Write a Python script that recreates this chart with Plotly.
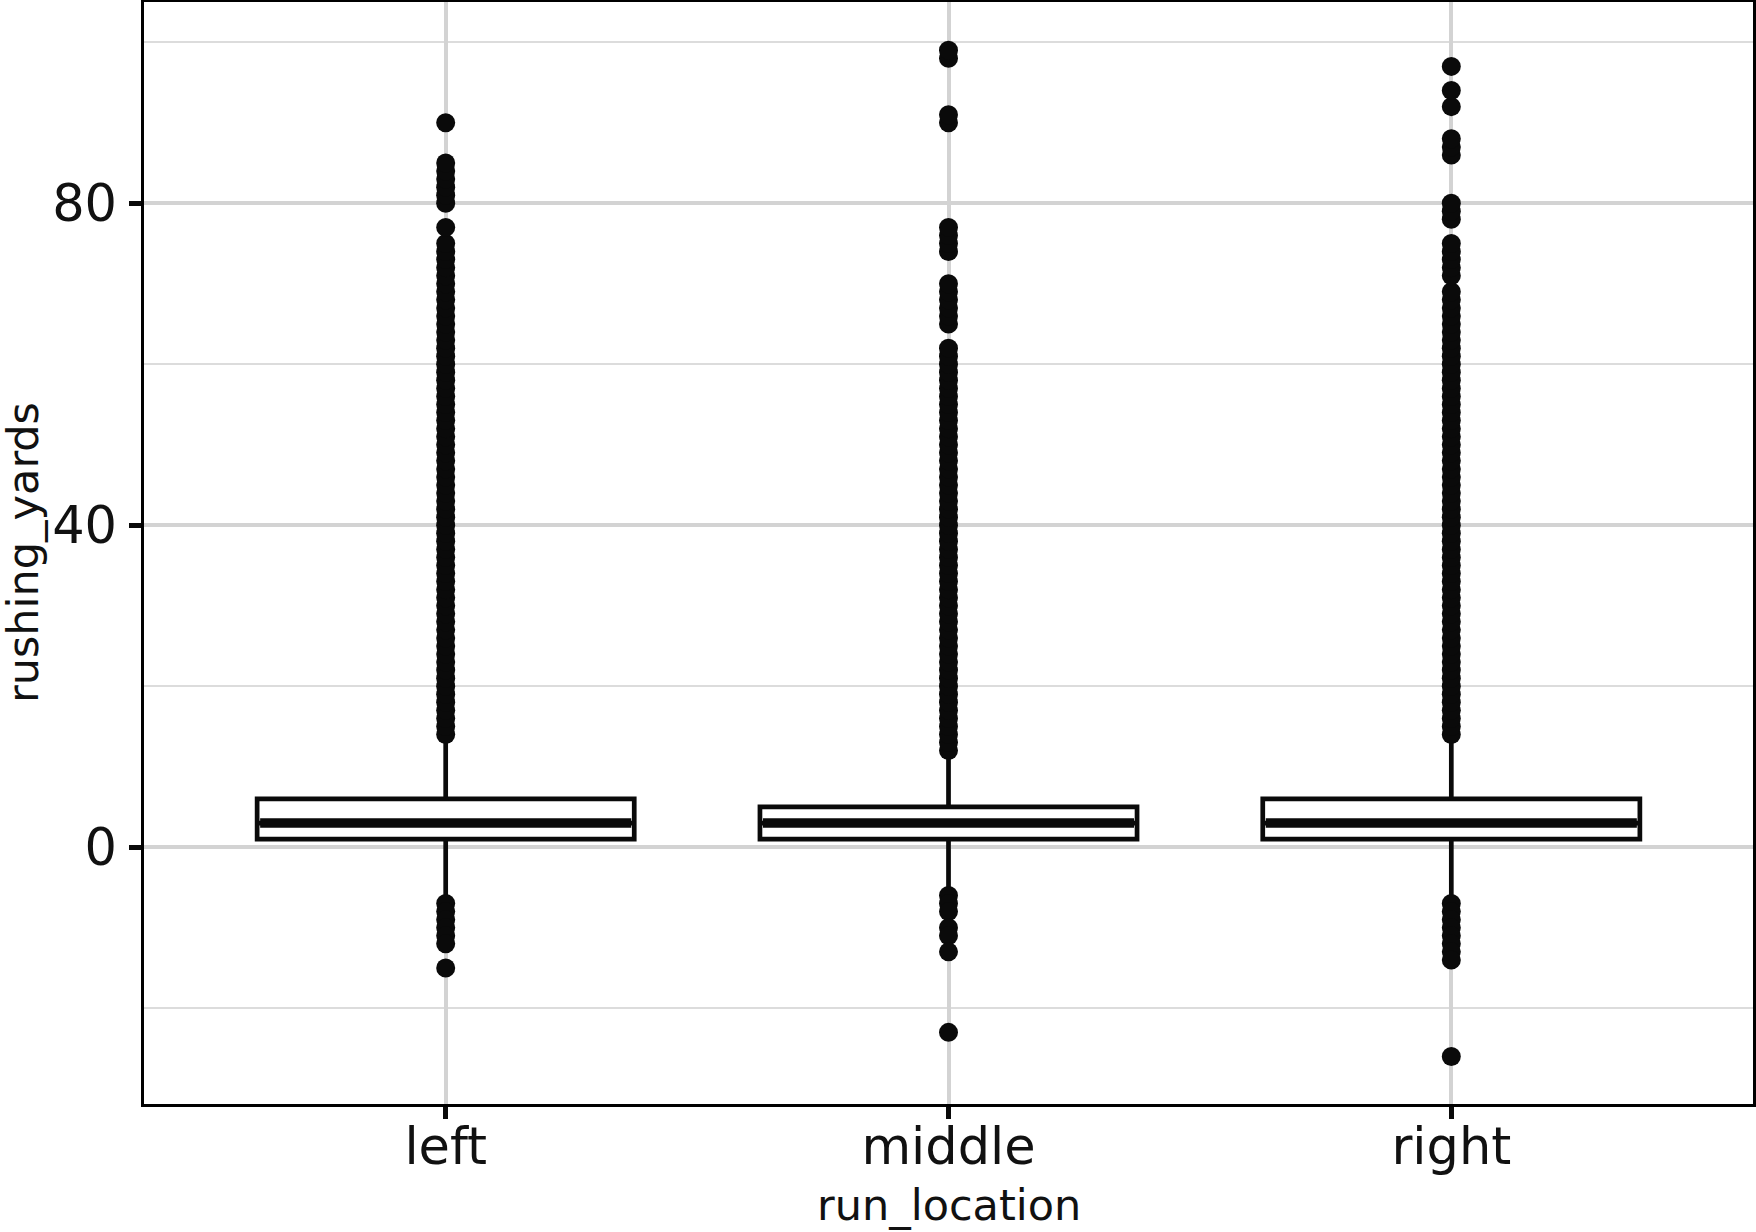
import plotly.graph_objects as go

# ---- data ----
categories = ["left", "middle", "right"]
q1 = [1, 1, 1]
median = [3, 3, 3]
q3 = [6, 5, 6]
lower_fence = [-6, -5, -6]
upper_fence = [13, 11, 13]

left_outliers = [14, 15, 16, 17, 18, 19, 20, 21, 22, 23, 24, 25, 26, 27, 28, 29, 30,
                 31, 32, 33, 34, 35, 36, 37, 38, 39, 40, 41, 42, 43, 44, 45, 46, 47,
                 48, 49, 50, 51, 52, 53, 54, 55, 56, 57, 58, 59, 60, 61, 62, 63, 64,
                 65, 66, 67, 68, 69, 70, 71, 72, 73, 74, 75, 77, 80, 81, 82, 83, 84,
                 85, 90, -7, -8, -9, -10, -11, -12, -15]
middle_outliers = [12, 13, 14, 15, 16, 17, 18, 19, 20, 21, 22, 23, 24, 25, 26, 27, 28,
                   29, 30, 31, 32, 33, 34, 35, 36, 37, 38, 39, 40, 41, 42, 43, 44, 45,
                   46, 47, 48, 49, 50, 51, 52, 53, 54, 55, 56, 57, 58, 59, 60, 61, 62,
                   65, 66, 67, 68, 69, 70, 74, 75, 76, 77, 90, 91, 98, 99,
                   -6, -7, -8, -10, -11, -13, -23]
right_outliers = [14, 15, 16, 17, 18, 19, 20, 21, 22, 23, 24, 25, 26, 27, 28, 29, 30,
                  31, 32, 33, 34, 35, 36, 37, 38, 39, 40, 41, 42, 43, 44, 45, 46, 47,
                  48, 49, 50, 51, 52, 53, 54, 55, 56, 57, 58, 59, 60, 61, 62, 63, 64,
                  65, 66, 67, 68, 69, 71, 72, 73, 74, 75, 78, 79, 80, 86, 87, 88, 92,
                  94, 97, -7, -8, -9, -10, -11, -12, -13, -14, -26]
outliers = [left_outliers, middle_outliers, right_outliers]

y_ticks = [0, 40, 80]
x_title = "run_location"
y_title = "rushing_yards"

# ---- styling ----
BOX_W = 0.75
INK = "#0a0a0a"
TXT = "#111111"
positions = list(range(len(categories)))

fig = go.Figure()

# outliers
for i, vals in enumerate(outliers):
    fig.add_trace(go.Scatter(
        x=[positions[i]] * len(vals), y=vals, mode="markers",
        marker=dict(size=19, color=INK, line=dict(width=0)),
        showlegend=False, hoverinfo="y"))

# boxes
fig.add_trace(go.Box(
    x=positions, q1=q1, median=median, q3=q3,
    lowerfence=lower_fence, upperfence=upper_fence,
    width=BOX_W, whiskerwidth=0, boxpoints=False,
    fillcolor="white", line=dict(color=INK, width=4.7),
    showlegend=False))

# thick median lines (ggplot fatten)
for i, m in enumerate(median):
    fig.add_trace(go.Scatter(
        x=[positions[i] - BOX_W / 2 + 0.006, positions[i] + BOX_W / 2 - 0.006],
        y=[m, m], mode="lines",
        line=dict(color=INK, width=9.5), showlegend=False, hoverinfo="skip"))

font_family = "DejaVu Sans"
fig.update_layout(
    width=1756, height=1232,
    margin=dict(l=144, r=3, t=2, b=128, autoexpand=False),
    paper_bgcolor="white", plot_bgcolor="white",
    font=dict(family=font_family, color=TXT),
    annotations=[
        dict(text=x_title, xref="paper", yref="paper", x=0.5, y=0,
             xanchor="center", yanchor="middle", yshift=-101, showarrow=False,
             font=dict(size=43, color=TXT)),
        dict(text=y_title, xref="paper", yref="paper", x=0, y=0.5,
             xanchor="center", yanchor="middle", xshift=-121, textangle=-90,
             showarrow=False, font=dict(size=43, color=TXT)),
    ],
)
fig.update_xaxes(
    range=[-0.6, 2.6], tickmode="array", tickvals=positions, ticktext=categories,
    tickfont=dict(size=51, color=TXT), automargin=False,
    showgrid=True, gridcolor="#d3d3d3", gridwidth=4,
    zeroline=False,
    showline=True, mirror=True, linecolor="black", linewidth=2.5,
    ticks="outside", ticklen=12, tickwidth=4.5, tickcolor=INK,
    ticklabelstandoff=-16,
)
fig.update_yaxes(
    range=[-31.9, 105], tickmode="array", tickvals=y_ticks,
    tickfont=dict(size=51, color=TXT), automargin=False,
    showgrid=True, gridcolor="#d3d3d3", gridwidth=4,
    minor=dict(dtick=20, tick0=0, showgrid=True, gridcolor="#dcdcdc", gridwidth=2, ticks=""),
    zeroline=False,
    showline=True, mirror=True, linecolor="black", linewidth=2.5,
    ticks="outside", ticklen=12, tickwidth=4.5, tickcolor=INK,
    ticklabelstandoff=2,
)

fig.write_html("out.html")
